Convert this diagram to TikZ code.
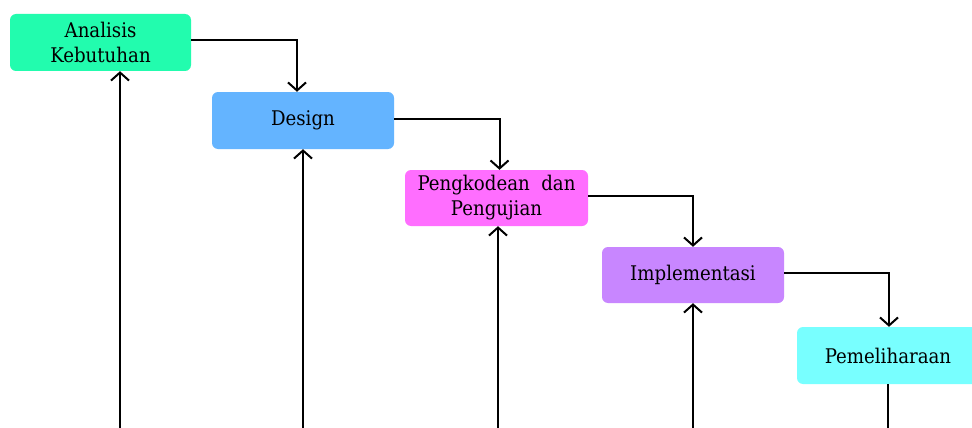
\documentclass[tikz,border=0pt]{standalone}
\usepackage{fontspec}
\setmainfont{DejaVu Serif Condensed}
\usetikzlibrary{arrows.meta,calc}
\definecolor{cA}{RGB}{34,252,174}
\definecolor{cB}{RGB}{100,180,255}
\definecolor{cC}{RGB}{255,110,255}
\definecolor{cD}{RGB}{200,134,255}
\definecolor{cE}{RGB}{120,255,255}
\tikzset{
  phase/.style={rounded corners=6pt, minimum width=182pt, minimum height=57pt,
    inner sep=0pt, align=center, text=black,
    font=\fontsize{20.2}{25}\selectfont},
  conn/.style={line width=2pt, draw=black},
  arr/.style={conn, -{Straight Barb[length=8pt,width=18pt,line width=2pt]}}
}
\begin{document}
\begin{tikzpicture}[x=1pt,y=-1pt]
\clip (0,0) rectangle (972,428);
\fill[white] (0,0) rectangle (972,428);
\node[phase, fill=cA, minimum width=181pt] (b1) at (100.5,42.5) {Analisis\\Kebutuhan};
\node[phase, fill=cB] (b2) at (303,120.5) {Design};
\node[phase, fill=cC, minimum width=183pt, minimum height=56pt] (b3) at (496.5,198) {Pengkodean~~dan\\Pengujian};
\node[phase, fill=cD, minimum height=56pt] (b4) at (693,275) {Implementasi};
\node[phase, fill=cE] (b5) at (888,355.5) {Pemeliharaan};
% bottom coordinates
\coordinate (f1) at (120,440);
\coordinate (f2) at (303,440);
\coordinate (f3) at (498,440);
\coordinate (f4) at (693,440);
\coordinate (f5) at (888,440);
% forward connectors
\draw[arr] ([yshift=2pt]b1.east) -| ([xshift=-6pt]b2.north);
\draw[arr] ([yshift=2pt]b2.east) -| ([xshift=3pt]b3.north);
\draw[arr] ([yshift=2pt]b3.east) -| (b4.north);
\draw[arr] ([yshift=2pt]b4.east) -| ([xshift=1pt]b5.north);
% return lines
\draw[arr] (f1) -- (f1 |- b1.south);
\draw[arr] (f2) -- (f2 |- b2.south);
\draw[arr] (f3) -- (f3 |- b3.south);
\draw[arr] (f4) -- (f4 |- b4.south);
\draw[conn] (b5.south -| f5) -- (f5);
\end{tikzpicture}
\end{document}
